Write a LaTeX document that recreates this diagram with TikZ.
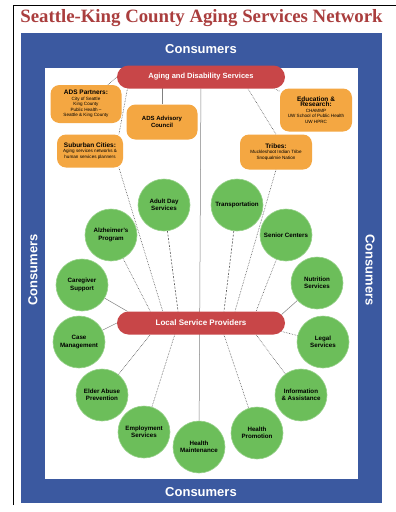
\documentclass[tikz,border=0pt]{standalone}
\usepackage{fontspec}
\setmainfont{Liberation Sans}
\newfontfamily\titlefont{Liberation Serif}
\usetikzlibrary{shapes.misc}
\pgfdeclarelayer{frame}
\pgfdeclarelayer{lines}
\pgfsetlayers{frame,lines,main}
\definecolor{cblue}{RGB}{59,89,160}
\definecolor{cred}{RGB}{200,70,72}
\definecolor{corange}{RGB}{244,167,66}
\definecolor{cgreen}{RGB}{108,190,90}
\definecolor{titlered}{RGB}{170,62,62}
\newcommand\otitlefont{\bfseries\fontsize{6.5}{7.5}\selectfont}
\begin{document}
\begin{tikzpicture}[x=1pt,y=-1pt,
  pill/.style={rounded rectangle, fill=cred, text=white, minimum width=168pt, minimum height=23pt, inner sep=0pt, font=\bfseries\fontsize{7.5}{9}\selectfont},
  obox/.style={rectangle, rounded corners=9pt, fill=corange, align=center, inner sep=1pt, font=\fontsize{4.6}{5.4}\selectfont},
  svc/.style={circle, fill=cgreen, draw=cgreen!70!white, line width=0.6pt, minimum size=52pt, inner sep=0pt, align=center, font=\bfseries\fontsize{6.2}{7.4}\selectfont},
  cons/.style={text=white, font=\bfseries\fontsize{13}{15}\selectfont},
  solidc/.style={draw=gray, line width=0.5pt},
  dotc/.style={draw=gray!70!black, line width=0.6pt, densely dotted},
  dashc/.style={draw=gray!70!black, line width=0.6pt, dash pattern=on 2pt off 1.5pt},
]
\useasboundingbox (0,0) rectangle (396,512);
\begin{pgfonlayer}{frame}
  \fill[white] (0,0) rectangle (396,512);
  \draw[black, line width=0.8pt] (13,505) -- (13,5) -- (396,5);
  \fill[cblue] (21,33) rectangle (382,503);
  \fill[white] (45,68) rectangle (358,479);
\end{pgfonlayer}

\node[font=\titlefont\bfseries\fontsize{18.8}{20}\selectfont, text=titlered] (title) at (201.5,18) {Seattle-King County Aging Services Network};

\node[cons] (ctop) at (201,49) {Consumers};
\node[cons] (cbot) at (201,492) {Consumers};
\node[cons, rotate=90] (cleft) at (33,270) {Consumers};
\node[cons, rotate=-90] (cright) at (370,270) {Consumers};

\node[pill] (ads) at (201,77) {Aging and Disability Services};
\node[pill, font=\bfseries\fontsize{8}{9}\selectfont] (lsp) at (201,323) {Local Service Providers};

\node[obox, minimum width=71pt, minimum height=38pt] (partners) at (86,104) {{\otitlefont ADS Partners:}\\City of Seattle\\King County\\Public Health --\\Seattle \& King County};
\node[obox, minimum width=71pt, minimum height=35pt, font=\bfseries\fontsize{6}{7.2}\selectfont] (adc) at (162,122) {ADS Advisory\\Council};
\node[obox, minimum width=66pt, minimum height=33pt] (suburban) at (90,151) {{\otitlefont Suburban Cities:}\\Aging services networks \&\\human services planners};
\node[obox, minimum width=72pt, minimum height=43pt] (edu) at (316,110) {{\otitlefont Education \&}\\{\otitlefont Research:}\\CHAMMP\\UW School of Public Health\\UW HPRC};
\node[obox, minimum width=72pt, minimum height=35pt] (tribes) at (276,152) {{\otitlefont Tribes:}\\Muckleshoot Indian Tribe\\Snoqualmie Nation};

\node[svc] (adult) at (164,205) {Adult Day\\Services};
\node[svc] (alz) at (111,235) {Alzheimer's\\Program};
\node[svc] (care) at (82,285) {Caregiver\\Support};
\node[svc] (case) at (79,342) {Case\\Management};
\node[svc] (elder) at (102,395) {Elder Abuse\\Prevention};
\node[svc] (employ) at (144,432) {Employment\\Services};
\node[svc] (hm) at (199,447) {Health\\Maintenance};
\node[svc] (hp) at (257,433) {Health\\Promotion};
\node[svc] (info) at (301,395) {Information\\\& Assistance};
\node[svc] (legal) at (323,342) {Legal\\Services};
\node[svc] (nutr) at (317,283) {Nutrition\\Services};
\node[svc] (senior) at (286,235) {Senior Centers};
\node[svc] (trans) at (237,205) {Transportation};

\begin{pgfonlayer}{lines}
  \draw[solidc] (ads) -- (hm);
  \draw[solidc] (adc) -- (adc |- ads);
  \draw[dotc] (ads.west) -- (partners);
  \draw[dotc] (ads.189) -- (suburban.30);
  \draw[dotc] (suburban.-30) -- (lsp.163);
  \draw[dashc] (adult) -- (lsp.153);
  \draw[dotc] (alz) -- (lsp.167);
  \draw[solidc] (care) -- (lsp.171);
  \draw[solidc] (case) -- (lsp.west);
  \draw[dotc] (elder) -- (lsp.193);
  \draw[dotc] (employ) -- (lsp.204);
  \draw[dotc] (ads.-9.5) -- (edu);
  \draw[dotc] (ads.-14) -- (tribes.north);
  \draw[dotc] (tribes.south) -- (lsp.19);
  \draw[dashc] (trans) -- (lsp.27.6);
  \draw[dotc] (senior) -- (lsp.12);
  \draw[solidc] (nutr) -- (lsp.6);
  \draw[dotc] (legal) -- (lsp.-6);
  \draw[dotc] (info) -- (lsp.-12.5);
  \draw[dotc] (hp) -- (lsp.-27.6);
\end{pgfonlayer}
\end{tikzpicture}
\end{document}
